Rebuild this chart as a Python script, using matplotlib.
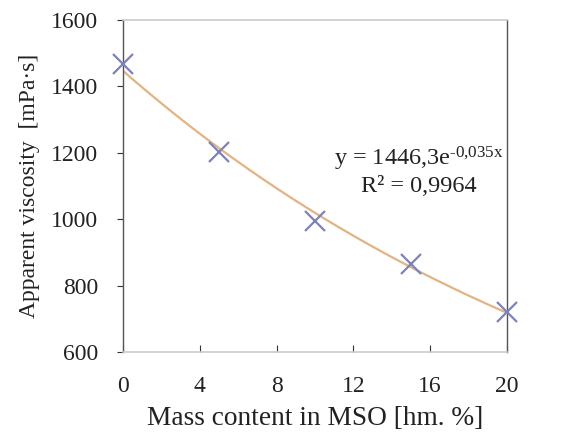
import numpy as np
import matplotlib
matplotlib.use("Agg")
import matplotlib.pyplot as plt

mso = [0, 5, 10, 15, 20]
viscosity = [1468, 1203, 995, 865, 720]
fit_a = 1446.3
fit_b = -0.035
eq_text = "y = 1446,3e$^{\\text{-0,035x}}$\nR² = 0,9964"
x_ticks = [0, 4, 8, 12, 16, 20]
y_ticks = [600, 800, 1000, 1200, 1400, 1600]

plt.rcParams['font.family'] = ['Liberation Serif', 'DejaVu Serif']
plt.rcParams['mathtext.fontset'] = 'custom'
plt.rcParams['mathtext.rm'] = 'Liberation Serif'
plt.rcParams['mathtext.it'] = 'Liberation Serif'

fig = plt.figure(figsize=(5.7, 4.33), dpi=100)
ax = fig.add_axes([0.216, 0.187, 0.673, 0.767])

xf = np.linspace(0, 20, 200)
ax.plot(xf, fit_a * np.exp(fit_b * xf), color='#e3b483', lw=1.6, zorder=2)
ax.plot(mso, viscosity, linestyle='none', marker='x', markersize=14,
        markeredgewidth=1.6, color='#7c83b9', zorder=3, clip_on=False)

ax.set_xlim(0, 20)
ax.set_ylim(600, 1600)
ax.set_xticks(x_ticks)
ax.set_yticks(y_ticks)
ax.tick_params(axis='both', labelsize=17, colors='#333333', labelcolor='#222222')
ax.tick_params(axis='x', direction='in', length=5, pad=17)
ax.tick_params(axis='y', direction='out', length=4, pad=14)

for s in ['left', 'right']:
    ax.spines[s].set_color('#555555')
    ax.spines[s].set_linewidth(1.0)
for s in ['top', 'bottom']:
    ax.spines[s].set_color('#cccccc')
    ax.spines[s].set_linewidth(1.2)

ax.set_xlabel("Mass content in MSO [hm. %]", fontsize=19.7, color='#222222', labelpad=7)
ax.set_ylabel("Apparent viscosity  [mPa·s]", fontsize=17, color='#222222', labelpad=8)

ax.text(15.4, 1145, eq_text, fontsize=17.5, ha='center', va='center',
        color='#222222', linespacing=1.2)

fig.savefig("out.png", dpi=100)
